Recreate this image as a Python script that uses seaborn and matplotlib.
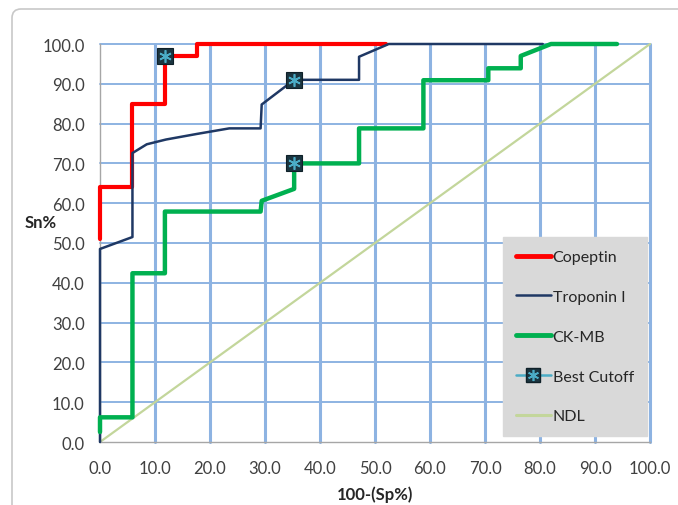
import pandas as pd
import matplotlib
matplotlib.use("Agg")
import matplotlib.pyplot as plt
import matplotlib.transforms as mtransforms
from matplotlib.patches import FancyBboxPatch
from matplotlib.lines import Line2D
import seaborn as sns

# ROC curves
cop_x = [0, 0, 5.9, 5.9, 11.8, 11.8, 17.6, 17.6, 52]
cop_y = [51, 64, 64, 85, 85, 97, 97, 100, 100]

trop_x = [0, 0, 5.9, 5.9, 8.5, 12, 17.6, 23.5, 29.2, 29.4, 35.3, 47.1, 47.1, 52.5, 80.5]
trop_y = [0, 48.5, 51.5, 72.6, 74.8, 76, 77.4, 78.8, 78.8, 84.8, 91, 91, 96.8, 100, 100]

ck_x = [0, 0, 5.9, 5.9, 11.8, 11.8, 29.2, 29.4, 35.3, 35.3, 47.1, 47.1, 58.8, 58.8,
        70.6, 70.6, 76.5, 76.5, 82, 94]
ck_y = [2.5, 6.2, 6.2, 42.4, 42.4, 57.9, 57.9, 60.6, 63.6, 70, 70, 78.8, 78.8, 90.9,
        90.9, 93.9, 93.9, 97, 100, 100]

cut_x = [11.8, 35.3, 35.3]
cut_y = [97, 91, 70]

ndl_x = [0, 100]
ndl_y = [0, 100]

ticks = [0, 10, 20, 30, 40, 50, 60, 70, 80, 90, 100]

sns.set_theme(style="white")
plt.rcParams['font.family'] = ['Lato', 'DejaVu Sans']

fig = plt.figure(figsize=(6.78, 5.06), dpi=100)
ax = fig.add_axes([100 / 678, 1 - 443 / 506, 550 / 678, 398 / 506])

# rounded outer frame
frame = FancyBboxPatch((12, -30), 720, 506 - 10 + 30,
                       boxstyle="round,pad=0,rounding_size=9",
                       transform=mtransforms.IdentityTransform(),
                       facecolor="white", edgecolor="#c8c8c8", linewidth=1.2, zorder=-10)
fig.patches.append(frame)

grid_c = "#8db3e2"
for t in ticks[1:]:
    ax.axvline(t, color=grid_c, lw=2.2, zorder=0.5, clip_on=False)
    ax.axhline(t, color=grid_c, lw=1.4, zorder=0.4, clip_on=False)

sns.lineplot(x=ndl_x, y=ndl_y, ax=ax, color="#c3d69b", lw=1.6, sort=False,
             estimator=None, zorder=1)
sns.lineplot(x=cop_x, y=cop_y, ax=ax, color="#ff0000", lw=3.0, sort=False,
             estimator=None, zorder=2)
sns.lineplot(x=trop_x, y=trop_y, ax=ax, color="#1f3864", lw=1.8, sort=False,
             estimator=None, zorder=3)
sns.lineplot(x=ck_x, y=ck_y, ax=ax, color="#00b050", lw=3.2, sort=False,
             estimator=None, zorder=4)
for l in ax.lines:
    l.set_clip_on(False)

ax.plot(cut_x, cut_y, ls="none", marker="s", ms=11, mfc="#1b3540", mec="#0f2028",
        mew=0.8, zorder=5, clip_on=False)
ax.plot(cut_x, cut_y, ls="none", marker=(6, 2, 0), ms=9, mec="#4bacc6",
        mew=1.2, zorder=6, clip_on=False)

ax.set_xlim(0, 100)
ax.set_ylim(0, 100)
ax.set_xticks(ticks)
ax.set_yticks(ticks)
ax.set_xticklabels([f"{t:.1f}" for t in ticks])
ax.set_yticklabels([f"{t:.1f}" for t in ticks])
ax.tick_params(axis="both", length=5, width=1, color="#a6a6a6", labelsize=12,
               labelcolor="#404040", direction="out")
ax.tick_params(axis="y", pad=6)
ax.tick_params(axis="x", pad=8)
for s in ["top", "right"]:
    ax.spines[s].set_visible(False)
for s in ["left", "bottom"]:
    ax.spines[s].set_color("#a6a6a6")
    ax.spines[s].set_linewidth(1.0)
    ax.spines[s].set_zorder(1.5)

ax.set_xlabel("100-(Sp%)", fontsize=12, fontweight="bold", color="#262626",
              va="center")
ax.xaxis.set_label_coords(0.5, -0.13)
ax.set_ylabel("Sn%", fontsize=12, fontweight="bold", color="#262626", rotation=0,
              ha="center", va="center")
ax.yaxis.set_label_coords(-0.108, 0.552)

handles = [
    Line2D([], [], color="#ff0000", lw=3.5),
    Line2D([], [], color="#1f3864", lw=1.8),
    Line2D([], [], color="#00b050", lw=3.5),
    (Line2D([], [], color="#4bacc6", lw=1.8, marker="s", ms=10, mfc="#1b3540", mec="#0f2028"),
     Line2D([], [], ls="none", marker=(6, 2, 0), ms=8, mec="#4bacc6", mew=1.2)),
    Line2D([], [], color="#c3d69b", lw=2.2),
]
labels = ["Copeptin", "Troponin I", "CK-MB", "Best Cutoff", "NDL"]
leg = ax.legend(handles, labels, loc="lower left", bbox_to_anchor=(0.733, 0.015),
                fontsize=11.5, frameon=True, fancybox=False, facecolor="#d9d9d9",
                edgecolor="#d9d9d9", framealpha=1, handlelength=2.2,
                handletextpad=0.1, labelspacing=1.6, borderpad=0.8,
                borderaxespad=0)
for t in leg.get_texts():
    t.set_color("#262626")
leg.set_zorder(7)

plt.savefig("out.png", dpi=100)
